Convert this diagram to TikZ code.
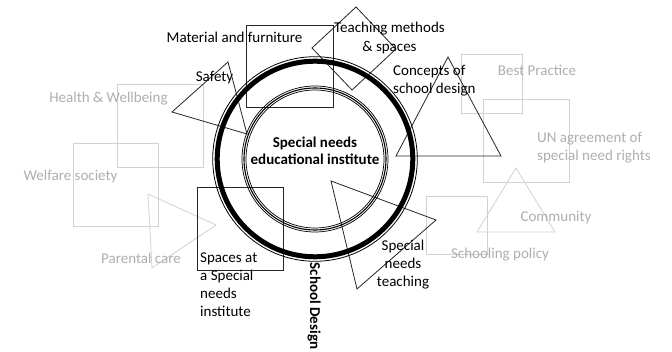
\documentclass[tikz,border=0pt]{standalone}
\usepackage{fontspec}
\setmainfont{Carlito}
\begin{document}
\begin{tikzpicture}[x=1pt,y=-1pt,
  lbl/.style={inner sep=0pt,font=\fontsize{15}{18.3}\selectfont,text=black},
  glbl/.style={lbl,text=greytext},
  blk/.style={draw=black!85,line width=0.8pt,line join=miter},
  gry/.style={draw=greyline,line width=0.8pt}]
\definecolor{greytext}{RGB}{175,175,175}
\definecolor{greyline}{RGB}{210,210,210}
\useasboundingbox (0,0) rectangle (672,352);
\fill[white] (0,0) rectangle (672,352);
% grey shapes
\draw[gry] (117,84) rectangle (203,167);
\draw[gry] (73,143) rectangle (158,226);
\draw[gry] (148,194) -- (216,225) -- (152,268) -- cycle;
\draw[gry] (461,54) rectangle (522,113);
\draw[gry] (483,99) rectangle (569,182);
\draw[gry] (516,168) -- (555,232) -- (477,232) -- cycle;
\draw[gry] (426,196) rectangle (487,254);
% black shapes
\draw[blk] (246,25) rectangle (333,107);
\draw[blk] (356,7) -- (396,49) -- (352,90) -- (312,48) -- cycle;
\draw[blk] (228,62) -- (247,134) -- (172,112) -- cycle;
\draw[blk] (448,57) -- (501,156) -- (396,156) -- cycle;
\draw[blk] (197,187) rectangle (283,270);
\draw[blk] (331,181) -- (436,220) -- (357,289) -- cycle;
% rings
\coordinate (c) at (315,159);
\draw[black,line width=0.8pt] (c) circle[radius=102.3];
\draw[black,line width=5pt] (c) circle[radius=97.8];
\draw[black,line width=0.7pt] (c) circle[radius=73];
\draw[black,line width=1.1pt] (c) circle[radius=71];
\draw[black,line width=0.7pt] (c) circle[radius=69];
% labels
\node[lbl,font=\fontsize{15}{17.5}\selectfont\bfseries,align=center] (core) at (315,151) {Special needs\\educational institute};
\node[lbl,font=\fontsize{15}{18}\selectfont\bfseries,rotate=-90] (sd) at (314,306) {School Design};
\node[lbl] (mat) at (234.5,37) {Material and furniture};
\node[lbl,align=center] (teach) at (389.5,38) {Teaching methods\\\& spaces};
\node[lbl] (saf) at (214.5,78) {Safety};
\node[lbl,align=left,anchor=west] (conc) at (393,81) {Concepts of\\school design};
\node[lbl,align=left,anchor=west,font=\fontsize{15}{18}\selectfont] (spaces) at (200,285) {Spaces at\\a Special\\needs\\institute};
\node[lbl,align=center] (snt) at (403,264.5) {Special\\needs\\teaching};
\node[glbl] (health) at (108.5,99) {Health \& Wellbeing};
\node[glbl] (welf) at (70.5,177) {Welfare society};
\node[glbl] (par) at (141,258) {Parental care};
\node[glbl] (best) at (537,70) {Best Practice};
\node[glbl,align=left,anchor=west] (un) at (537,147.5) {UN agreement of\\special need rights};
\node[glbl] (comm) at (556,218) {Community};
\node[glbl] (school) at (500,255) {Schooling policy};
\end{tikzpicture}
\end{document}
